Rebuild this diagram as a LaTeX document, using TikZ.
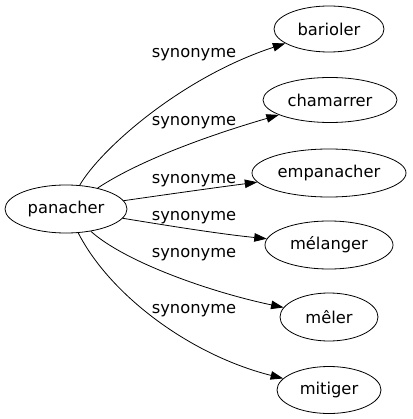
\documentclass[tikz,border=0pt]{standalone}
\usepackage{fontspec}
\setmainfont{DejaVu Sans}
\usetikzlibrary{shapes.geometric,arrows.meta}
\tikzset{
  word/.style={draw, ellipse, inner sep=0pt, line width=0.8pt, font=\fontsize{16.3}{18}\selectfont},
  rel/.style={font=\fontsize{16.3}{18}\selectfont, inner sep=0pt},
  link/.style={line width=0.8pt, -{Triangle[length=12.5pt,width=8.5pt]}}
}
\begin{document}
\begin{tikzpicture}[x=1pt,y=-1pt]
\useasboundingbox (0,0) rectangle (412,419);
\node[word, minimum width=122pt, minimum height=48pt] (pan) at (66,209) {panacher};
\node[word, minimum width=110pt, minimum height=46pt] (bar) at (329,29) {barioler};
\node[word, minimum width=134pt, minimum height=45pt] (cha) at (330,100) {chamarrer};
\node[word, minimum width=154pt, minimum height=48pt] (emp) at (329,173) {empanacher};
\node[word, minimum width=128pt, minimum height=48pt] (mel) at (329,245) {mélanger};
\node[word, minimum width=98pt, minimum height=48pt] (mec) at (329,317) {mêler};
\node[word, minimum width=104pt, minimum height=47pt] (mit) at (329,390) {mitiger};
\node[rel] (l1) at (194,55) {synonyme};
\node[rel] (l2) at (194,123) {synonyme};
\node[rel] (l3) at (194,181) {synonyme};
\node[rel] (l4) at (194,218) {synonyme};
\node[rel] (l5) at (194,254.5) {synonyme};
\node[rel] (l6) at (194,311) {synonyme};
\draw[link] (pan) .. controls (100,150) and (180,78) .. (bar);
\draw[link] (pan) .. controls (140,160) and (210,135) .. (cha);
\draw[link] (pan) .. controls (170,194) and (220,187) .. (emp);
\draw[link] (pan) .. controls (170,226) and (220,234) .. (mel);
\draw[link] (pan) .. controls (125,262) and (210,292) .. (mec);
\draw[link] (pan) .. controls (110,295) and (190,355) .. (mit);
\end{tikzpicture}
\end{document}
